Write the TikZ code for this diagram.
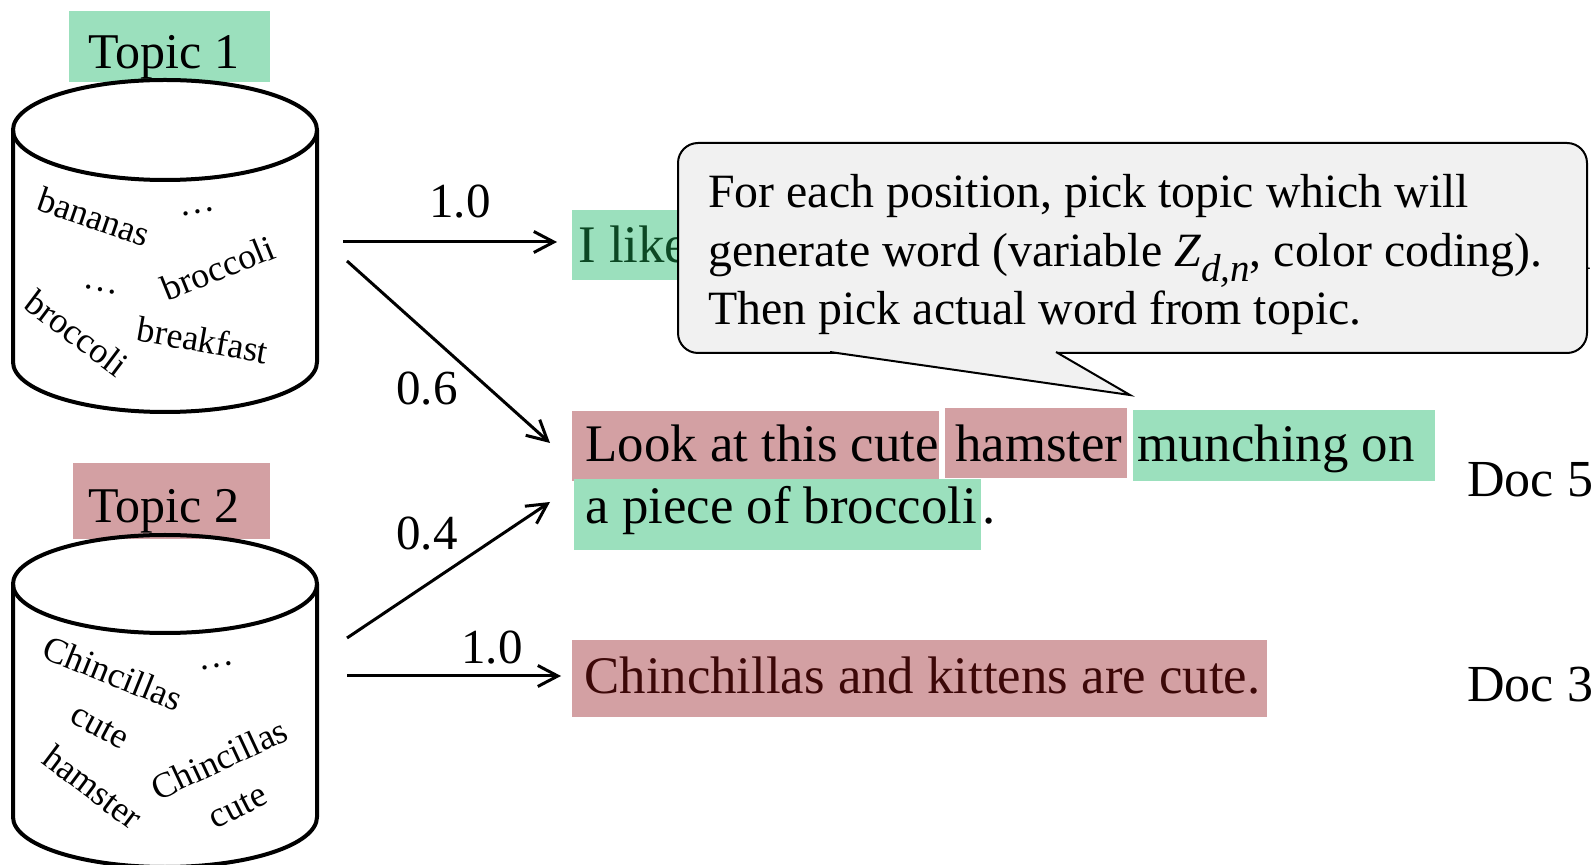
\documentclass[tikz,border=0pt]{standalone}
\usepackage{fontspec}
\setmainfont{Liberation Serif}
\usetikzlibrary{arrows.meta}

\definecolor{topicgreen}{RGB}{155,224,189}
\definecolor{topicred}{RGB}{211,160,163}
\definecolor{likegreen}{RGB}{12,72,36}
\definecolor{chinred}{RGB}{60,8,8}
\definecolor{bubblefill}{RGB}{241,241,241}

% font size helper and a left-aligned highlighted text box
\newcommand{\setfs}[1]{\fontsize{#1}{#1}\selectfont}
\newcommand{\hlbox}[3]{\makebox[#1][l]{\hspace{#2}#3}}

\begin{document}
\begin{tikzpicture}[x=0.5pt,y=-0.5pt,
  cyl/.style={line width=2pt},
  word/.style={font=\setfs{18}, inner sep=0pt},
  hl/.style={inner sep=0pt, anchor=north west},
  doctext/.style={font=\setfs{26.4}},
  topictext/.style={font=\setfs{25}},
  problabel/.style={font=\setfs{24.5}, inner sep=0pt, anchor=base},
  doclabel/.style={font=\setfs{26}, inner sep=0pt, anchor=base west},
  bubbletext/.style={font=\setfs{23.9}, inner sep=0pt, anchor=base west},
  flow/.style={line width=1.5pt, -{Straight Barb[length=10pt,width=10.5pt]}},
]
\useasboundingbox (0,0) rectangle (1596,865);

% ---------- topic 1 cylinder ----------
\node[hl, topictext, fill=topicgreen, text height=28.5pt, text depth=7pt]
  (topic1) at (69,11) {\hlbox{100.5pt}{9.5pt}{Topic 1}};
\draw[cyl] (165,130) ellipse [x radius=152, y radius=50];
\draw[cyl] (13,130) -- (13,362) arc [start angle=180, end angle=0, x radius=152, y radius=50] -- (317,130);
\node[word, rotate=-19] (w11) at (94,217) {bananas};
\node[word, anchor=base, rotate=10] (w12) at (198,213) {…};
\node[word, rotate=22] (w13) at (218,268) {broccoli};
\node[word, anchor=base, rotate=-12] (w14) at (100,291) {…};
\node[word, rotate=-37] (w15) at (77,333) {broccoli};
\node[word, rotate=-10] (w16) at (203,340) {breakfast};

% ---------- topic 2 cylinder ----------
\node[hl, topictext, fill=topicred, text height=29.5pt, text depth=8.5pt]
  (topic2) at (73,463) {\hlbox{98.5pt}{7.5pt}{Topic 2}};
\draw[cyl] (165,584) ellipse [x radius=152, y radius=49];
\draw[cyl] (13,584) -- (13,817) arc [start angle=180, end angle=0, x radius=152, y radius=50] -- (317,584);
\node[word, rotate=-22] (w21) at (113,673) {Chincillas};
\node[word, anchor=base, rotate=10] (w22) at (217,667) {…};
\node[word, rotate=-28] (w23) at (100,727) {cute};
\node[word, rotate=-37] (w24) at (93,787) {hamster};
\node[word, rotate=25] (w25) at (219,759) {Chincillas};
\node[word, rotate=27] (w26) at (238,807) {cute};

% ---------- documents ----------
\node[hl, doctext, fill=topicgreen, text=likegreen, text height=26pt, text depth=9pt]
  (like) at (572,210) {\hlbox{65pt}{3pt}{I like}};
\node[doclabel] (doc1) at (1467,270) {Doc 1};

\node[hl, doctext, fill=topicred, text height=25pt, text depth=10pt]
  (look) at (572,411) {\hlbox{183.5pt}{6.5pt}{Look at this cute}};
\node[hl, doctext, fill=topicred, text height=26.5pt, text depth=8.5pt]
  (hamster) at (945,408) {\hlbox{91pt}{5pt}{hamster}};
\node[hl, doctext, fill=topicgreen, text height=25.5pt, text depth=10pt]
  (munch) at (1133,410) {\hlbox{151pt}{2pt}{munching on}};
\node[hl, doctext, fill=topicgreen, text height=22pt, text depth=13.5pt]
  (piece) at (574,479) {\hlbox{203.5pt}{5.5pt}{a piece of broccoli}};
\node[doctext, inner sep=0pt, anchor=base west] (dot) at (piece.base east) {.};
\node[doclabel] (doc5) at (1467,497) {Doc 5};

\node[hl, doctext, fill=topicred, text=chinred, text height=26.5pt, text depth=12pt]
  (chin) at (572,640) {\hlbox{347.5pt}{6pt}{Chinchillas and kittens are cute.}};
\node[doclabel] (doc3) at (1467,702) {Doc 3};

% ---------- topic-to-document arrows ----------
\coordinate (t1a) at (343,242);
\coordinate (t1b) at (347,261);
\coordinate (t2a) at (347,638);
\coordinate (t2b) at (347,676);
\coordinate (likein) at (557,242);
\coordinate (lookin) at (550,443);
\coordinate (piecein) at (550,502);
\coordinate (chinin) at (561,676);
\draw[flow] (t1a) -- (likein);
\draw[flow] (t1b) -- (lookin);
\draw[flow] (t2a) -- (piecein);
\draw[flow] (t2b) -- (chinin);
\node[problabel] (p1) at (460,218) {1.0};
\node[problabel] (p2) at (427,405) {0.6};
\node[problabel] (p3) at (427,550) {0.4};
\node[problabel] (p4) at (492,664) {1.0};

% ---------- speech bubble ----------
\node[draw, line width=1pt, fill=bubblefill, rounded corners=10pt, inner sep=0pt,
      minimum width=454.5pt, minimum height=105pt, anchor=north west]
  (bubble) at (677,142) {};
\fill[bubblefill] (830,346) -- (1056,346) -- (1056,352) -- (1130,395) -- (830,352) -- cycle;
\draw[line width=1pt] (830,352) -- (1130,395) -- (1056,352);
\node[bubbletext] (b1) at (708,208) {For each position, pick topic which will};
\node[bubbletext] (b2) at (708,267) {generate word (variable \textit{Z}\raisebox{-0.3em}{\setfs{19.5}\itshape d,n}, color coding).};
\node[bubbletext] (b3) at (708,325) {Then pick actual word from topic.};
\end{tikzpicture}
\end{document}
